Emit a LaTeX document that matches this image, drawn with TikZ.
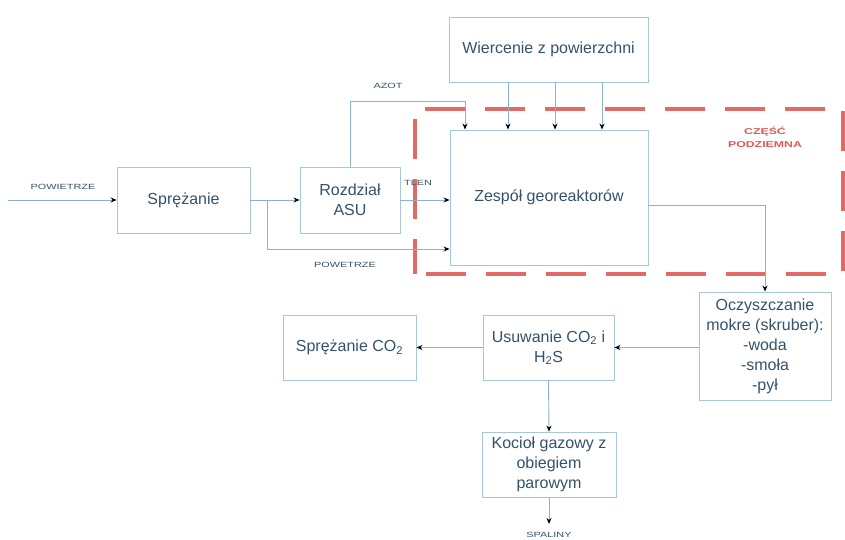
\documentclass[tikz,border=0pt]{standalone}
\usepackage{fontspec}
\setmainfont{Liberation Sans}
\newfontfamily\widefont[FakeStretch=1.45]{Liberation Sans}
\usetikzlibrary{arrows.meta,calc}
\definecolor{boxc}{HTML}{A7C7DA}
\definecolor{txtc}{HTML}{34536B}
\definecolor{linec}{HTML}{8DB3CB}
\definecolor{redc}{HTML}{DD5A55}
\newcommand{\subtwo}{\textsubscript{2}}
\begin{document}
\begin{tikzpicture}[x=1pt,y=-1pt,
  blk/.style={draw=boxc,line width=0.9pt,text=txtc,align=center,inner sep=0pt,
    font=\fontsize{16}{20}\selectfont},
  arr/.style={draw=linec,line width=0.9pt,-{Stealth[black,length=6pt,width=5pt]}},
  ln/.style={draw=linec,line width=0.9pt},
  lbl/.style={text=txtc,inner sep=0pt,font=\widefont\fontsize{7.5}{9}\selectfont}]
\useasboundingbox[fill=white] (0,0) rectangle (845,540);
% red dashed region
\draw[redc,line width=3.5pt,dash pattern=on 40pt off 20pt,dash phase=5pt,opacity=0.9]
  (415,274) -- (415,109) -- (843,109) -- (843,274) -- cycle;
\node[text=redc,font=\widefont\bfseries\fontsize{8.5}{13}\selectfont,align=center] (cz) at (765,137) {CZĘŚĆ\\PODZIEMNA};
% boxes
\node[blk,minimum width=133pt,minimum height=66pt] (spr) at (183.5,200) {Sprężanie};
\node[blk,minimum width=100pt,minimum height=66pt] (asu) at (350,200) {Rozdział\\ASU};
\node[blk,minimum width=198pt,minimum height=135pt] (zesp) at (549,197.5) {Zespół georeaktorów};
\node[blk,minimum width=199pt,minimum height=65pt] (wier) at (548.5,49.5) {Wiercenie z powierzchni};
\node[blk,minimum width=132pt,minimum height=108pt] (ocz) at (765,346) {Oczyszczanie\\mokre (skruber):\\-woda\\-smoła\\-pył};
\node[blk,minimum width=131pt,minimum height=65pt] (usu) at (548.5,347.5) {Usuwanie CO\subtwo{} i\\H\subtwo S};
\node[blk,minimum width=133pt,minimum height=65pt] (sco2) at (349.5,347.5) {Sprężanie CO\subtwo};
\node[blk,minimum width=134pt,minimum height=65pt] (koc) at (549,464.5) {Kocioł gazowy z\\obiegiem\\parowym};
% coordinates
\coordinate (in) at (8,200);
\coordinate (br) at (267,200);
\coordinate (pw) at (267,249);
\coordinate (azot) at (465,101);
\coordinate (sp) at (549,524);
% connectors
\draw[arr] (in) -- (spr.west);
\draw[arr] (spr.east) -- (asu.west);
\draw[ln] (br) -- (pw);
\draw[arr] (pw) -- (pw -| zesp.west);
\draw[arr] (asu.east) -- (zesp.west |- asu.east);
\draw[ln] (asu.north) |- (azot);
\draw[arr] (azot) -- (azot |- zesp.north);
\draw[arr] ([xshift=-40.5pt]wier.south) -- ([xshift=-40.5pt]wier.south |- zesp.north);
\draw[arr] ([xshift=6.5pt]wier.south) -- ([xshift=6.5pt]wier.south |- zesp.north);
\draw[arr] ([xshift=53.5pt]wier.south) -- ([xshift=53.5pt]wier.south |- zesp.north);
\draw[arr] ([yshift=-7.5pt]zesp.east) -| (ocz.north);
\draw[arr] (ocz.west |- usu.east) -- (usu.east);
\draw[arr] (usu.west) -- (sco2.east);
\draw[arr] (usu.south) -- (koc.north);
\draw[arr] (koc.south) -- (sp);
% labels
\node[lbl] (l1) at (63,187) {POWIETRZE};
\node[lbl] (l2) at (345,265) {POWETRZE};
\node[lbl] (l3) at (388,86) {AZOT};
\node[lbl] (l4) at (418,183) {TLEN};
\node[lbl] (l5) at (549,535) {SPALINY};
\end{tikzpicture}
\end{document}
